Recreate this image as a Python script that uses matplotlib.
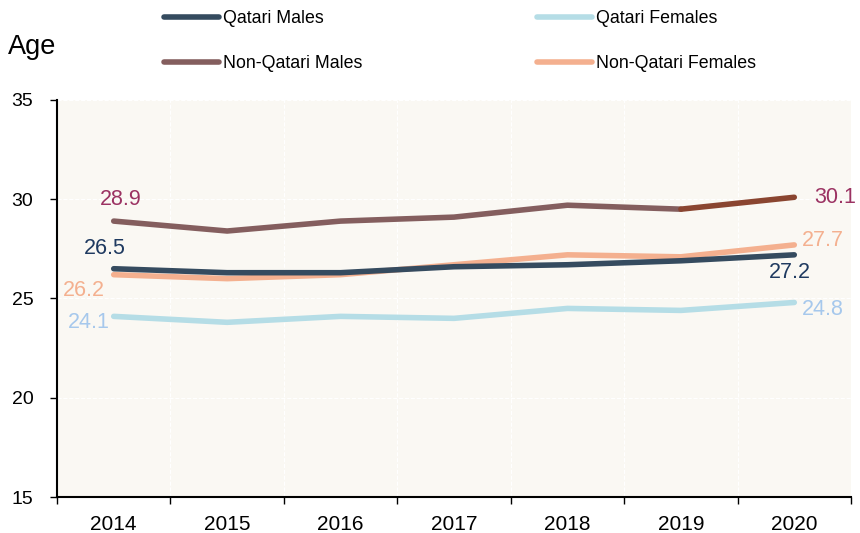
import matplotlib.pyplot as plt
from matplotlib.lines import Line2D

plt.rcParams['font.family'] = ['Liberation Sans', 'DejaVu Sans']

years = ['2014', '2015', '2016', '2017', '2018', '2019', '2020']
qatari_males = [26.5, 26.3, 26.3, 26.6, 26.7, 26.9, 27.2]
qatari_females = [24.1, 23.8, 24.1, 24.0, 24.5, 24.4, 24.8]
non_qatari_males = [28.9, 28.4, 28.9, 29.1, 29.7, 29.5, 30.1]
non_qatari_females = [26.2, 26.0, 26.2, 26.7, 27.2, 27.1, 27.7]

c_qm = '#354B5F'
c_qf = '#B5DDE6'
c_nqm = '#845E5E'
c_nqm_last = '#8A4530'
c_nqf = '#F4B08F'

fig = plt.figure(figsize=(8.6, 5.33), dpi=100)
ax = fig.add_axes([57 / 860, 36 / 533, 794 / 860, 397 / 533])
ax.set_facecolor('#FAF8F3')

x = list(range(len(years)))
lw = 4
ax.plot(x, qatari_females, color=c_qf, lw=lw, solid_capstyle='round', zorder=3)
ax.plot(x, non_qatari_females, color=c_nqf, lw=lw, solid_capstyle='round', zorder=3)
ax.plot(x, qatari_males, color=c_qm, lw=lw, solid_capstyle='round', zorder=4)
ax.plot(x[:-1], non_qatari_males[:-1], color=c_nqm, lw=lw, solid_capstyle='round', zorder=3)
ax.plot(x[-2:], non_qatari_males[-2:], color=c_nqm_last, lw=lw, solid_capstyle='round', zorder=3)

# end labels (offsets in pixels, y up)
fs = 15.5
def label(xi, yi, dx, dy, color):
    ax.annotate(f'{yi}', (xi, yi), xytext=(dx, dy), textcoords='offset pixels',
                color=color, fontsize=fs, ha='center', va='center')

label(x[0], non_qatari_males[0], 7, 22, '#9B3262')
label(x[0], qatari_males[0], -9, 20, '#1F3A60')
label(x[0], non_qatari_females[0], -30, -16, c_nqf)
label(x[0], qatari_females[0], -25, -6, '#A6C8EC')
label(x[-1], non_qatari_males[-1], 41, 0, '#9B3262')
label(x[-1], non_qatari_females[-1], 29, 4, c_nqf)
label(x[-1], qatari_males[-1], -4, -18, '#1F3A60')
label(x[-1], qatari_females[-1], 29, -7, '#A6C8EC')

ax.set_xlim(-0.5, len(years) - 0.5)
ax.set_ylim(15, 35)
ax.set_yticks([15, 20, 25, 30, 35])
ax.set_xticks(x)
ax.set_xticklabels(years)
ax.set_xticks([i - 0.5 for i in range(len(years) + 1)], minor=True)
ax.tick_params(axis='x', which='major', length=0, labelsize=15, pad=13)
ax.tick_params(axis='x', which='minor', length=5, width=1, direction='out')
ax.tick_params(axis='y', length=5, width=1, labelsize=14, pad=12)

ax.grid(True, which='minor', axis='x', color='white', linestyle='--', lw=0.8)
ax.grid(True, which='major', axis='y', color='white', linestyle='--', lw=0.8)
ax.set_axisbelow(True)

for s in ['top', 'right']:
    ax.spines[s].set_visible(False)
ax.spines['left'].set_linewidth(1.5)
ax.spines['bottom'].set_linewidth(1.5)

fig.text(8 / 860, 1 - 47 / 533, 'Age', fontsize=19.5, ha='left', va='center')

handles = [
    Line2D([], [], color=c_qm, lw=lw, solid_capstyle='round'),
    Line2D([], [], color=c_nqm, lw=lw, solid_capstyle='round'),
    Line2D([], [], color=c_qf, lw=lw, solid_capstyle='round'),
    Line2D([], [], color=c_nqf, lw=lw, solid_capstyle='round'),
]
labels = ['Qatari Males', 'Non-Qatari Males', 'Qatari Females', 'Non-Qatari Females']
fig.legend(handles, labels, loc='upper left', bbox_to_anchor=(164 / 860, 1 - 10 / 533),
           ncol=2, frameon=False, fontsize=12.8, handlelength=3.1, handletextpad=0.22,
           columnspacing=9.8, labelspacing=1.56, borderpad=0, borderaxespad=0)

fig.savefig('out.png', dpi=100)
